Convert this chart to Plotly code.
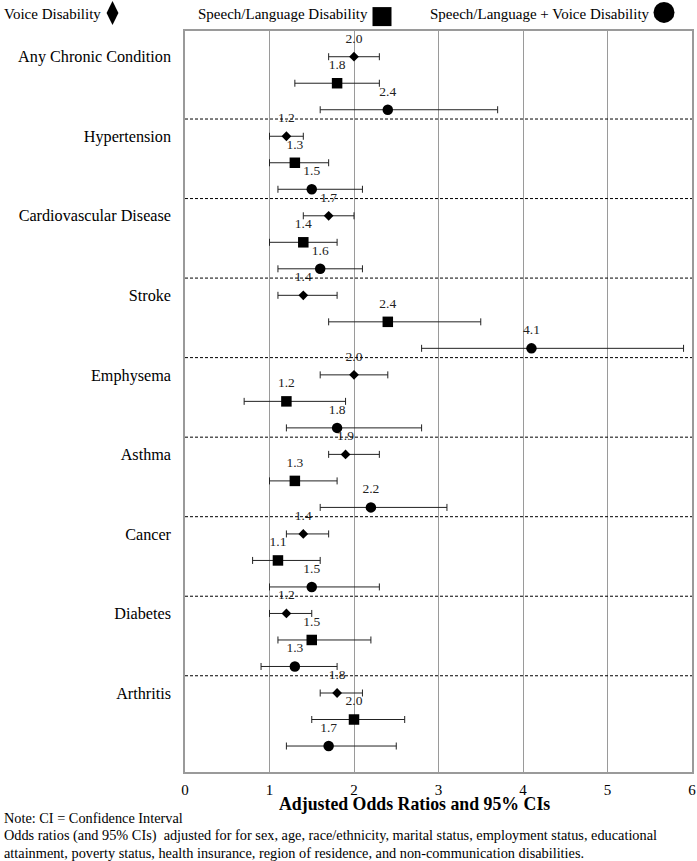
import plotly.graph_objects as go

# ---------------- data ----------------
categories = ["Any Chronic Condition", "Hypertension", "Cardiovascular Disease", "Stroke",
              "Emphysema", "Asthma", "Cancer", "Diabetes", "Arthritis"]
series_names = ["Voice Disability", "Speech/Language Disability",
                "Speech/Language + Voice Disability"]

voice_or = [2.0, 1.2, 1.7, 1.4, 2.0, 1.9, 1.4, 1.2, 1.8]
voice_lo = [1.7, 1.0, 1.4, 1.1, 1.6, 1.7, 1.2, 1.0, 1.6]
voice_hi = [2.3, 1.4, 2.0, 1.8, 2.4, 2.3, 1.7, 1.5, 2.1]

speech_or = [1.8, 1.3, 1.4, 2.4, 1.2, 1.3, 1.1, 1.5, 2.0]
speech_lo = [1.3, 1.0, 1.0, 1.7, 0.7, 1.0, 0.8, 1.1, 1.5]
speech_hi = [2.3, 1.7, 1.8, 3.5, 1.9, 1.8, 1.6, 2.2, 2.6]

both_or = [2.4, 1.5, 1.6, 4.1, 1.8, 2.2, 1.5, 1.3, 1.7]
both_lo = [1.6, 1.1, 1.1, 2.8, 1.2, 1.6, 1.0, 0.9, 1.2]
both_hi = [3.7, 2.1, 2.1, 5.9, 2.8, 3.1, 2.3, 1.8, 2.5]

x_ticks = [0, 1, 2, 3, 4, 5, 6]
x_title = "Adjusted Odds Ratios and 95% CIs"
note_lines = [
    "Note: CI = Confidence Interval",
    "Odds ratios (and 95% CIs)  adjusted for for sex, age, race/ethnicity, marital status, employment status, educational",
    "attainment, poverty status, health insurance, region of residence, and non-communication disabilities.",
]

# ---------------- styling ----------------
W, H = 697, 861
PL, PR, PT, PB = 185, 692, 31, 772          # plot area in pixels
FONT = "Liberation Serif"
symbols = ["diamond", "square", "circle"]
sizes = [7.5, 10.5, 10.5]
leg_symbols = ["diamond-tall", "square", "circle"]
leg_sizes = [17, 19, 21]
leg_text_x = [2, 196, 428]
leg_sym_x = [112.5, 382, 664]
leg_sym_y = [13, 16.6, 12.4]
leg_text_y = 14

series = [(voice_or, voice_lo, voice_hi),
          (speech_or, speech_lo, speech_hi),
          (both_or, both_lo, both_hi)]

fig = go.Figure()
n_s = len(series)
for s, (orr, lo, hi) in enumerate(series):
    rows = [g * n_s + s for g in range(len(categories))]
    fig.add_trace(go.Scatter(
        x=orr, y=rows, mode="markers",
        marker=dict(symbol=symbols[s], size=sizes[s], color="black", line=dict(width=0)),
        error_x=dict(type="data", symmetric=False,
                     array=[h - o for h, o in zip(hi, orr)],
                     arrayminus=[o - l for o, l in zip(orr, lo)],
                     color="#222222", thickness=1, width=3.5),
        showlegend=False, name=series_names[s], cliponaxis=False))
    fig.add_trace(go.Scatter(
        x=orr, y=[r - 0.66 for r in rows], mode="text",
        text=[f"{v:.1f}" for v in orr], textposition="middle center",
        textfont=dict(family=FONT, size=13.5, color="#222222"),
        showlegend=False, cliponaxis=False, hoverinfo="skip"))

# legend keys on a full-page helper axis
for s in range(n_s):
    fig.add_trace(go.Scatter(
        x=[leg_sym_x[s]], y=[leg_sym_y[s]], xaxis="x2", yaxis="y2", mode="markers",
        marker=dict(symbol=leg_symbols[s], size=leg_sizes[s], color="black", line=dict(width=0)),
        showlegend=False, hoverinfo="skip", cliponaxis=False))
    fig.add_annotation(x=leg_text_x[s], y=leg_text_y, xref="x2", yref="y2",
                       text=series_names[s], showarrow=False, xanchor="left", yanchor="middle",
                       font=dict(family=FONT, size=15, color="black"))

# separators between groups
for g in range(len(categories) - 1):
    fig.add_shape(type="line", xref="x", yref="y", x0=0, x1=6,
                  y0=g * n_s + 2.35, y1=g * n_s + 2.35,
                  line=dict(color="black", width=1, dash="3px,2px"))

# axis title and notes
fig.add_annotation(x=414, y=804, xref="x2", yref="y2", text=f"<b>{x_title}</b>",
                   showarrow=False, xanchor="center", yanchor="middle",
                   font=dict(family=FONT, size=17.8, color="black"))
for i, line in enumerate(note_lines):
    fig.add_annotation(x=2, y=818 + i * 17.5, xref="x2", yref="y2", text=line,
                       showarrow=False, xanchor="left", yanchor="middle",
                       font=dict(family=FONT, size=14.3, color="black"))

row_span = n_s * len(categories)
fig.update_layout(
    width=W, height=H, margin=dict(l=0, r=0, t=0, b=0, autoexpand=False),
    paper_bgcolor="white", plot_bgcolor="rgba(0,0,0,0)",
    font=dict(family=FONT, color="black"),
    xaxis=dict(domain=[PL / W, PR / W], range=[0, 6], tickvals=x_ticks,
               showgrid=True, gridcolor="#9a9a9a", gridwidth=1.2,
               showline=True, mirror=True, linecolor="#9a9a9a", linewidth=1.5,
               zeroline=False, ticks="outside", ticklen=3, tickcolor="rgba(0,0,0,0)",
               tickfont=dict(family=FONT, size=15, color="black"), automargin=False,
               anchor="y", fixedrange=True),
    yaxis=dict(domain=[(H - PB) / H, (H - PT) / H], range=[row_span - 0.02, -0.97],
               tickvals=[g * n_s for g in range(len(categories))], ticktext=categories,
               showgrid=False, showline=True, mirror=True, linecolor="#9a9a9a", linewidth=1.5,
               zeroline=False, ticks="outside", ticklen=9, tickcolor="rgba(0,0,0,0)",
               tickfont=dict(family=FONT, size=16.2, color="black"), automargin=False,
               anchor="x", fixedrange=True),
    xaxis2=dict(domain=[0, 1], range=[0, W], visible=False, anchor="y2", fixedrange=True),
    yaxis2=dict(domain=[0, 1], range=[H, 0], visible=False, anchor="x2", fixedrange=True),
    hovermode=False,
)

fig.write_html("out.html", config={"displayModeBar": False},
               post_script="document.body.style.margin='0px';document.body.style.padding='0px';")
